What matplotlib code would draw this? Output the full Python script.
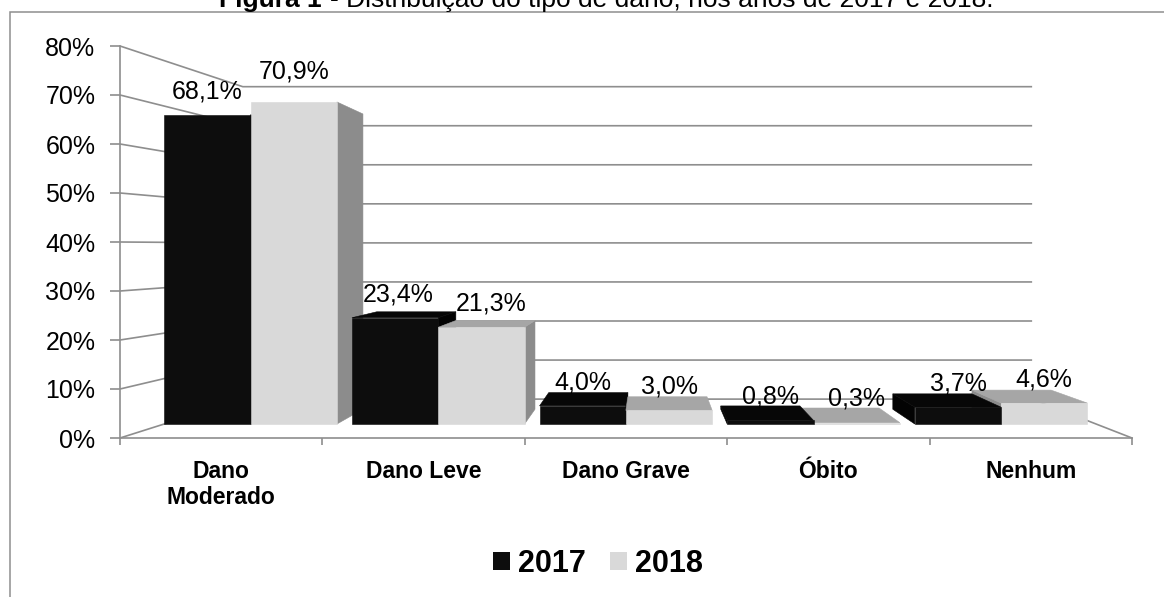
import matplotlib
matplotlib.use("Agg")
import matplotlib.pyplot as plt
from matplotlib.patches import Polygon, Rectangle, Patch

plt.rcParams['font.family'] = ['Liberation Sans', 'DejaVu Sans']

# ---------------- data ----------------
categories = ["Dano\nModerado", "Dano Leve", "Dano Grave", "Óbito", "Nenhum"]
series_names = ["2017", "2018"]
values_2017 = [68.1, 23.4, 4.0, 0.8, 3.7]
values_2018 = [70.9, 21.3, 3.0, 0.3, 4.6]
y_ticks = [0, 10, 20, 30, 40, 50, 60, 70, 80]
y_tick_labels = ["0%", "10%", "20%", "30%", "40%", "50%", "60%", "70%", "80%"]
title_bold = "Figura 1"
title_rest = "- Distribuição do tipo de dano, nos anos de 2017 e 2018."

# ---------------- style / layout ----------------
W, H = 1164, 597
front_col = ["#0d0d0d", "#d9d9d9"]
top_col = ["#070707", "#a6a6a6"]
side_col = ["#030303", "#8c8c8c"]
grid_col = "#8e8e8e"

# perspective parameters (data units of the front plane)
VY = 39.1          # vanishing point height (in % units)
VXB = 2.6186       # vanishing x used for bars (category units)
VXW = 2.757        # vanishing x used for walls
SF = 0.927         # scale of the bar front plane
SB = 0.85          # scale of the bar back plane
SWX, SWY = 0.78, 0.797   # scale of the back wall
GAP = 0.03
BW = 0.46
# manual label nudges seen in the reference (points), keyed by (category, series)
label_nudge = {(0, 1): (0, 5), (1, 1): (7, 0), (1, 0): (2, 0)}

fig = plt.figure(figsize=(W / 100, H / 100), dpi=100)
ax = fig.add_axes([120 / W, 1 - 438 / H, 1012 / W, 392 / H])
ax.set_xlim(0, 5)
ax.set_ylim(0, 80)
ax.patch.set_alpha(0)

for s in ["top", "right"]:
    ax.spines[s].set_visible(False)
for s in ["left", "bottom"]:
    ax.spines[s].set_color(grid_col)
    ax.spines[s].set_linewidth(1.2)

ax.set_yticks(y_ticks)
ax.set_yticklabels(y_tick_labels, fontsize=18)
ax.tick_params(axis="y", length=7.2, width=1.2, color=grid_col, pad=10.5)
ax.set_xticks(range(len(categories) + 1))
ax.set_xticklabels([])
ax.tick_params(axis="x", which="major", length=5, width=1.2, color=grid_col)
ax.set_xticks([i + 0.5 for i in range(len(categories))], categories, minor=True)
ax.tick_params(axis="x", which="minor", length=0, pad=16, labelsize=16.5)
for lab in ax.get_xticklabels(minor=True):
    lab.set_fontweight("bold")
    lab.set_linespacing(1.15)


def pb(x, y, s):
    return VXB + (x - VXB) * s, VY + (y - VY) * s


def pw(x, y):
    return VXW + (x - VXW) * SWX, VY + (y - VY) * SWY


# walls and gridlines
n = len(categories)
for v in y_ticks:
    bl = pw(0, v)
    br = pw(n, v)
    ax.plot([0, bl[0], br[0]], [v, bl[1], br[1]], color=grid_col, lw=1.2,
            zorder=1, clip_on=False, solid_capstyle="butt")
br0 = pw(n, 0)
ax.plot([n, br0[0]], [0, br0[1]], color=grid_col, lw=1.2, zorder=1, clip_on=False)

# bars
values = [values_2017, values_2018]
bars = []
for i in range(n):
    for j in range(2):
        x0 = i + GAP + j * BW
        x1 = x0 + BW
        bars.append((abs((x0 + x1) / 2 - VXB), i, j, x0, x1, values[j][i]))
bars.sort(key=lambda b: -b[0])


def poly(pts, col, z):
    ax.add_patch(Polygon(pts, closed=True, facecolor=col, edgecolor=col,
                         lw=0.4, zorder=z, clip_on=False))


z = 3
for _, i, j, x0, x1, v in bars:
    if x1 < VXB:
        poly([pb(x1, 0, SF), pb(x1, 0, SB), pb(x1, v, SB), pb(x1, v, SF)], side_col[j], z)
    elif x0 > VXB:
        poly([pb(x0, 0, SF), pb(x0, 0, SB), pb(x0, v, SB), pb(x0, v, SF)], side_col[j], z)
    if v < VY:
        poly([pb(x0, v, SF), pb(x1, v, SF), pb(x1, v, SB), pb(x0, v, SB)], top_col[j], z + 0.1)
    poly([pb(x0, 0, SF), pb(x1, 0, SF), pb(x1, v, SF), pb(x0, v, SF)], front_col[j], z + 0.2)
    z += 1

# data labels
for i in range(n):
    for j in range(2):
        x0 = i + GAP + j * BW
        x1 = x0 + BW
        v = values[j][i]
        xc, yc = pb((x0 + x1) / 2, v, SF)
        dx, dy = label_nudge.get((i, j), (0, 0))
        txt = f"{v:.1f}".replace(".", ",") + "%"
        ax.annotate(txt, (xc, yc), xytext=(dx, 12 + dy), textcoords="offset points",
                    ha="center", va="baseline", fontsize=18, zorder=50,
                    annotation_clip=False)

# legend
handles = [Patch(facecolor=front_col[0], edgecolor="none"),
           Patch(facecolor=front_col[1], edgecolor="none")]
fig.legend(handles, series_names, loc="center", bbox_to_anchor=(598 / W, 1 - 564 / H),
           ncol=2, frameon=False, prop={"weight": "bold", "size": 22},
           handlelength=0.55, handleheight=0.52, handletextpad=0.26, columnspacing=0.8)

# border of the chart area
fig.add_artist(Rectangle((10.5 / W, -0.2), 2, 1.2 - 12 / H, transform=fig.transFigure,
                         fill=False, edgecolor=grid_col, lw=1.1))

# title (partly cut by the top edge, as in the reference)
fig.text(322 / W, 1 - 7.5 / H, title_bold, ha="right", va="baseline",
         fontsize=19, fontweight="bold")
fig.text(330 / W, 1 - 7.5 / H, title_rest, ha="left", va="baseline", fontsize=19)

fig.savefig("out.png", dpi=100, facecolor="white")
